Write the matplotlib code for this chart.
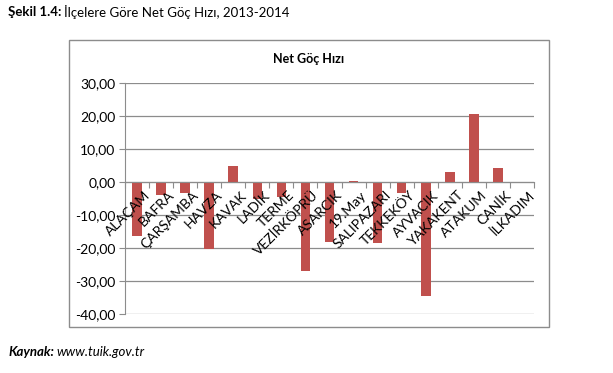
import numpy as np
import matplotlib.pyplot as plt
from matplotlib.patches import Rectangle
from matplotlib.transforms import offset_copy

plt.rcParams['font.family'] = ['Lato', 'DejaVu Sans']

districts = ['ALAÇAM', 'BAFRA', 'ÇARŞAMBA', 'HAVZA', 'KAVAK', 'LADİK', 'TERME',
             'VEZİRKÖPRÜ', 'ASARCIK', '19.May', 'SALIPAZARI', 'TEKKEKÖY',
             'AYVACIK', 'YAKAKENT', 'ATAKUM', 'CANİK', 'İLKADIM']
net_rate = [-16.5, -3.8, -3.4, -20.3, 4.75, -5.3, -4.6, -27.1, -18.2, 0.4,
            -18.6, -3.4, -34.6, 3.1, 20.7, 4.3, 0.0]
yticks = [30, 20, 10, 0, -10, -20, -30, -40]

W, H = 613, 373
fig = plt.figure(figsize=(W / 100, H / 100), dpi=100)

# chart frame
fig.patches.append(Rectangle((69 / W, 1 - 327 / H), 480 / W, 287 / H,
                             transform=fig.transFigure, fill=False,
                             edgecolor='#8c8c8c', linewidth=1))

ax = fig.add_axes([125 / W, 1 - 314 / H, 409 / W, 231 / H])
ax.set_axisbelow(True)
x = np.arange(len(districts))
ax.bar(x, net_rate, width=0.4, color='#c0504d', zorder=2)

ax.set_xlim(-0.5, len(districts) - 0.5)
ax.set_ylim(-40, 30)
ax.set_yticks(yticks)
ax.set_yticklabels([f'{v:.2f}'.replace('.', ',') for v in yticks], fontsize=10)
ax.yaxis.grid(True, color='#8c8c8c', linewidth=0.9)
ax.tick_params(axis='y', length=4, color='#8c8c8c', pad=3)

for s in ['top', 'right']:
    ax.spines[s].set_visible(False)
ax.spines['left'].set_color('#8c8c8c')
ax.spines['bottom'].set_position(('data', 0))
ax.spines['bottom'].set_color('#8c8c8c')
ax.spines['bottom'].set_zorder(3)

ax.set_xticks(np.arange(len(districts) + 1) - 0.5)
ax.set_xticklabels([])
ax.tick_params(axis='x', which='major', length=4, color='#8c8c8c', direction='out')

# category labels drawn over the bars, hanging from the zero line
lab_tr = offset_copy(ax.transData, fig=fig, x=5, y=-5, units='points')
for i, name in enumerate(districts):
    ax.text(i, 0, name, transform=lab_tr, rotation=45, ha='right', va='top',
            rotation_mode='anchor', fontsize=10, zorder=5, clip_on=False)

fig.text(309 / W, 1 - 59 / H, 'Net Göç Hızı', ha='center', va='center',
         fontsize=9, fontweight='bold')

fig.text(8 / W, 1 - 12 / H, 'Şekil 1.4:', fontsize=9.5, fontweight='bold',
         va='center', ha='left')
fig.text(64 / W, 1 - 12 / H, 'İlçelere Göre Net Göç Hızı, 2013-2014', fontsize=9.5,
         va='center', ha='left')
fig.text(8 / W, 1 - 352 / H, 'Kaynak:', fontsize=9.5, fontweight='bold',
         fontstyle='italic', va='center', ha='left')
fig.text(56 / W, 1 - 352 / H, 'www.tuik.gov.tr', fontsize=9.5,
         fontstyle='italic', va='center', ha='left')

fig.savefig('out.png', dpi=100)
